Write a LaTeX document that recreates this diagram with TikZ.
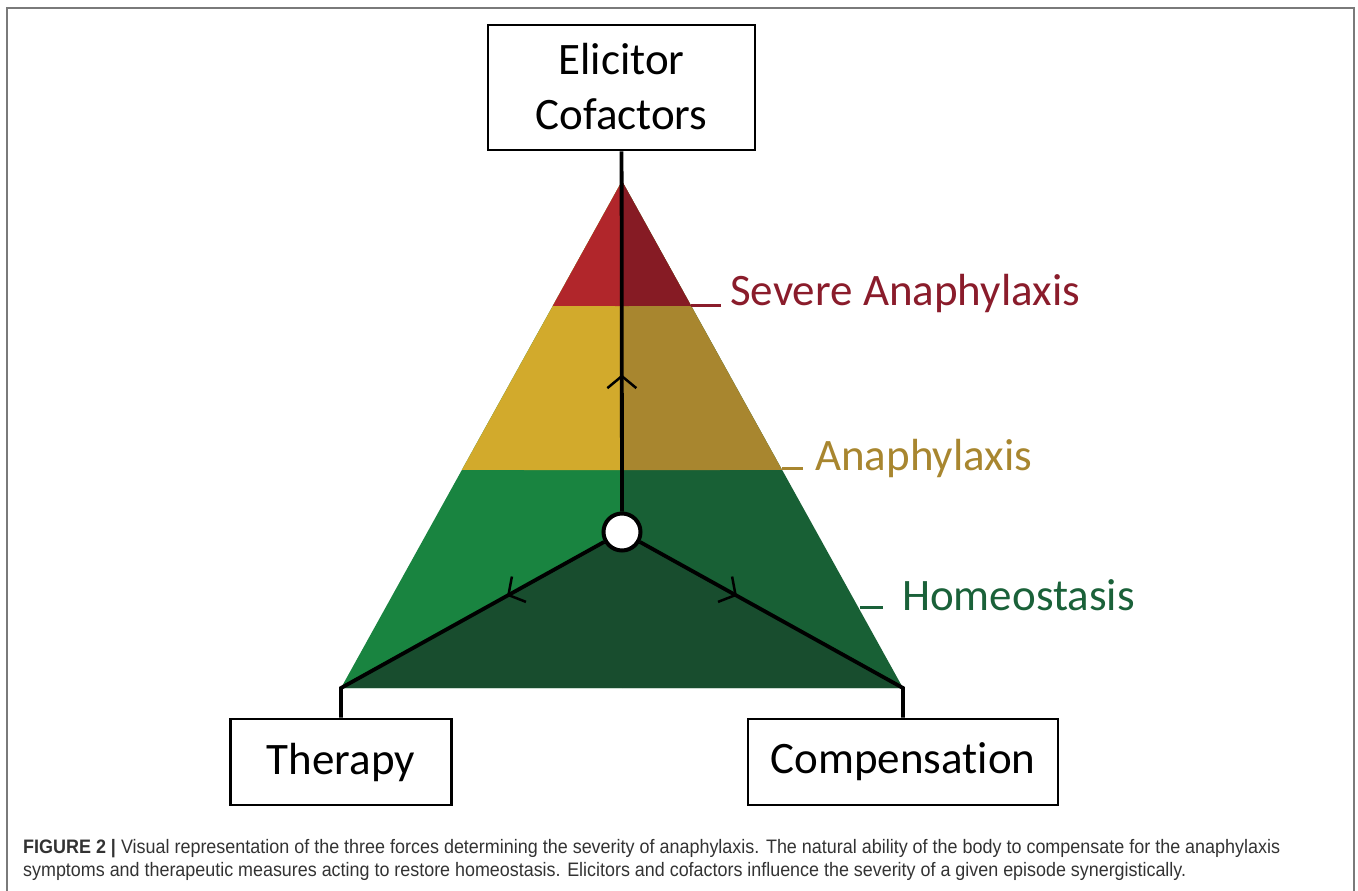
\documentclass[tikz,border=0pt]{standalone}
\usepackage{fontspec}
\usepackage{graphicx}
\usetikzlibrary{calc,arrows.meta,decorations.markings}
\newfontfamily\boxfont[Ligatures=NoCommon]{Carlito}
\newfontfamily\capfont{Liberation Sans}
\definecolor{redL}{HTML}{B1262B}
\definecolor{redR}{HTML}{861B24}
\definecolor{yelL}{HTML}{D2AA2C}
\definecolor{yelR}{HTML}{A8862F}
\definecolor{grnL}{HTML}{198440}
\definecolor{grnR}{HTML}{186035}
\definecolor{dkgrn}{HTML}{184D2E}
\definecolor{sevC}{HTML}{8A1C2B}
\definecolor{anaC}{HTML}{A8862F}
\definecolor{homC}{HTML}{1A6139}
\definecolor{capgray}{HTML}{333333}
\definecolor{framegray}{HTML}{7A7A7A}
\newsavebox\fitsave
\newdimen\fitdim
\newcommand\fitto[2]{\sbox\fitsave{#2}\fitdim=\wd\fitsave\pgfmathsetmacro\fitfac{#1/\fitdim}\scalebox{\fitfac}[1]{\usebox\fitsave}}
\tikzset{
  boxnode/.style={draw=black, line width=2.8pt, fill=white, font=\boxfont\fontsize{45}{54}\selectfont, align=center, inner sep=0pt},
  conn/.style={line width=3.8pt, draw=black},
  chev/.style={postaction={decorate}, decoration={markings, mark=at position #1 with {\arrow[line width=2.5pt]{Straight Barb[length=12pt,width=29pt]}}}},
  lab/.style={font=\boxfont\fontsize{45}{54}\selectfont, anchor=base west, inner sep=0pt},
  tickline/.style={line width=3pt},
  captxt/.style={font=\capfont\fontsize{19.5}{22}\selectfont, text=capgray, anchor=base west, inner sep=0pt},
}
\begin{document}
\begin{tikzpicture}[x=1pt,y=-1pt]
\useasboundingbox (0,0) rectangle (1358,891);
\draw[framegray, line width=1.5pt] (7,891) -- (7,8) -- (1354,8) -- (1354,891);
% geometry
\coordinate (ap) at (622,181);
\coordinate (bl) at (341,688);
\coordinate (br) at (903,688);
\coordinate (mb) at (622,688);
\coordinate (l1) at ($(ap)!0.2465!(bl)$);
\coordinate (r1) at ($(ap)!0.2465!(br)$);
\coordinate (m1) at (622,306);
\coordinate (l2) at ($(ap)!0.57!(bl)$);
\coordinate (r2) at ($(ap)!0.57!(br)$);
\coordinate (m2) at (622,470);
% fills
\fill[grnL] (ap) -- (bl) -- (mb) -- cycle;
\fill[yelL] (ap) -- (l2) -- (m2) -- cycle;
\fill[redL] (ap) -- (l1) -- (m1) -- cycle;
\fill[grnR] (ap) -- (br) -- (mb) -- cycle;
\fill[yelR] (ap) -- (r2) -- (m2) -- cycle;
\fill[redR] (ap) -- (r1) -- (m1) -- cycle;
\fill[dkgrn] (622,532) -- (bl) -- (br) -- cycle;
% nodes
\node[boxnode, minimum width=267pt, minimum height=125pt] (elic) at (621.5,87.5) {\raisebox{3pt}{Elicitor}\\\raisebox{2pt}{Cofactors}};
\node[boxnode, minimum width=221pt, minimum height=86pt] (ther) at (341,762) {Therapy};
\node[boxnode, minimum width=310pt, minimum height=86pt] (comp) at (903,762) {Compensation};
\node[circle, draw=black, fill=white, line width=4pt, minimum size=37pt, inner sep=0pt] (circ) at (622,532) {};
% connectors
\draw[conn, chev=137pt] (circ) -- (elic);
\draw[conn, chev=111pt] (circ) -- (bl) -- (ther);
\draw[conn, chev=111pt] (circ) -- (br) -- (comp);
% labels
\node[lab, text=sevC] (sev) at (730,305) {Severe Anaphylaxis};
\draw[tickline, sevC] ($(sev.base west)+(-39,0)$) -- ($(sev.base west)+(-9,0)$);
\node[lab, text=anaC] (ana) at (815,470) {Anaphylaxis};
\draw[tickline, anaC] ($(ana.base west)+(-33,-2)$) -- ($(ana.base west)+(-12,-2)$);
\node[lab, text=homC] (hom) at (902,610) {Homeostasis};
\draw[tickline, homC] ($(hom.base west)+(-42,-3)$) -- ($(hom.base west)+(-19,-3)$);
% caption
\node[captxt] (cap1) at (23,853) {\fitto{1257}{\textbf{FIGURE 2 |} Visual representation of the three forces determining the severity of anaphylaxis. The natural ability of the body to compensate for the anaphylaxis}};
\node[captxt] (cap2) at (23,876) {\fitto{1163}{symptoms and therapeutic measures acting to restore homeostasis. Elicitors and cofactors influence the severity of a given episode synergistically.}};
\end{tikzpicture}
\end{document}
